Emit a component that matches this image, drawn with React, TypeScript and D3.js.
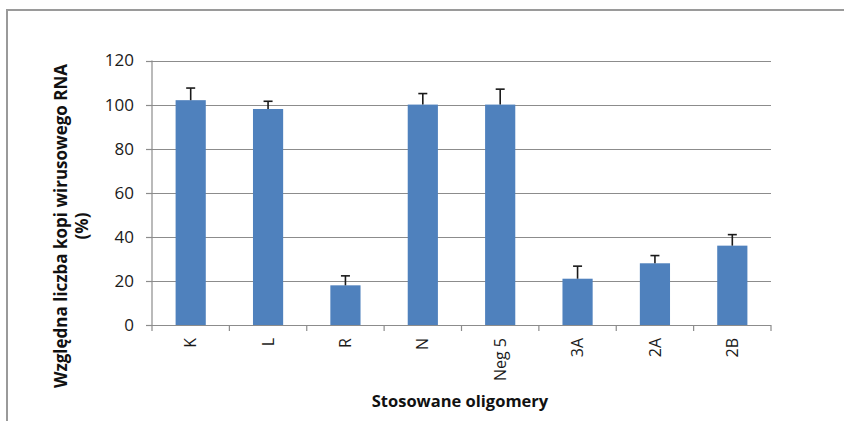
import React, { useRef, useEffect } from "react";
import * as d3 from "d3";

const categories = ["K", "L", "R", "N", "Neg 5", "3A", "2A", "2B"];
const values = [102, 98, 18, 100, 100, 21, 28, 36];
const errors = [5.5, 3.5, 4.3, 5, 7, 5.7, 3.5, 5];
const yTicks = [0, 20, 40, 60, 80, 100, 120];

const W = 844;
const H = 421;
const FONT = "'Open Sans', sans-serif";

const App: React.FC = () => {
    const svgRef = useRef<SVGSVGElement | null>(null);

    useEffect(() => {
        const svg = d3.select(svgRef.current);
        svg.selectAll("*").remove();

        const left = 152;
        const right = 771;
        const top = 60.5;
        const bottom = 325;

        const y = d3.scaleLinear().domain([0, 120]).range([bottom, top]);
        const x = d3
            .scaleBand<string>()
            .domain(categories)
            .range([left, right])
            .paddingInner(0.61)
            .paddingOuter(0.305);

        // frame of the chart area
        svg.append("path")
            .attr("d", `M7,${H} V10 H${W}`)
            .attr("fill", "none")
            .attr("stroke", "#9a9a9a")
            .attr("stroke-width", 2);

        // gridlines
        svg.append("g")
            .selectAll("line")
            .data(yTicks.filter((t) => t > 0))
            .join("line")
            .attr("x1", left)
            .attr("x2", right)
            .attr("y1", (d) => Math.round(y(d)) + 0.5)
            .attr("y2", (d) => Math.round(y(d)) + 0.5)
            .attr("stroke", "#8c8c8c")
            .attr("stroke-width", 1.2);

        // y axis
        const ya = svg.append("g").attr("class", "y-axis");
        ya.append("line")
            .attr("x1", left)
            .attr("x2", left)
            .attr("y1", top)
            .attr("y2", bottom)
            .attr("stroke", "#8c8c8c")
            .attr("stroke-width", 1.2);
        ya.selectAll("line.tick")
            .data(yTicks)
            .join("line")
            .attr("class", "tick")
            .attr("x1", left - 6)
            .attr("x2", left)
            .attr("y1", (d) => Math.round(y(d)) + 0.5)
            .attr("y2", (d) => Math.round(y(d)) + 0.5)
            .attr("stroke", "#8c8c8c")
            .attr("stroke-width", 1.2);
        ya.selectAll("text")
            .data(yTicks)
            .join("text")
            .attr("x", left - 18)
            .attr("y", (d) => y(d))
            .attr("dy", "0.35em")
            .attr("text-anchor", "end")
            .attr("font-family", FONT)
            .attr("font-size", 17)
            .attr("fill", "#1a1a1a")
            .text((d) => d);

        // bars
        svg.append("g")
            .selectAll("rect")
            .data(values)
            .join("rect")
            .attr("x", (_, i) => x(categories[i])!)
            .attr("width", x.bandwidth())
            .attr("y", (d) => y(d))
            .attr("height", (d) => bottom - y(d))
            .attr("fill", "#4f81bd");

        // error bars
        const eb = svg.append("g");
        values.forEach((v, i) => {
            const cx = x(categories[i])! + x.bandwidth() / 2;
            eb.append("line")
                .attr("x1", cx)
                .attr("x2", cx)
                .attr("y1", y(v))
                .attr("y2", y(v + errors[i]))
                .attr("stroke", "#1a1a1a")
                .attr("stroke-width", 1.6);
            eb.append("line")
                .attr("x1", cx - 4.5)
                .attr("x2", cx + 4.5)
                .attr("y1", y(v + errors[i]))
                .attr("y2", y(v + errors[i]))
                .attr("stroke", "#1a1a1a")
                .attr("stroke-width", 1.6);
        });

        // x axis
        const xa = svg.append("g");
        xa.append("line")
            .attr("x1", left)
            .attr("x2", right)
            .attr("y1", bottom + 0.5)
            .attr("y2", bottom + 0.5)
            .attr("stroke", "#8c8c8c")
            .attr("stroke-width", 1.2);
        const bounds = categories.map((c) => x(c)! - (x.step() - x.bandwidth()) / 2);
        bounds.push(right);
        xa.selectAll("line.tick")
            .data(bounds)
            .join("line")
            .attr("class", "tick")
            .attr("x1", (d) => d)
            .attr("x2", (d) => d)
            .attr("y1", bottom)
            .attr("y2", bottom + 6)
            .attr("stroke", "#8c8c8c")
            .attr("stroke-width", 1.2);
        xa.selectAll("text")
            .data(categories)
            .join("text")
            .attr(
                "transform",
                (d) => `translate(${x(d)! + x.bandwidth() / 2},${bottom + 13}) rotate(-90)`
            )
            .attr("dy", "0.35em")
            .attr("text-anchor", "end")
            .attr("font-family", FONT)
            .attr("font-size", 16)
            .attr("fill", "#1a1a1a")
            .text((d) => d);

        // axis titles
        svg.append("text")
            .attr("x", 460)
            .attr("y", 407)
            .attr("text-anchor", "middle")
            .attr("font-family", FONT)
            .attr("font-weight", "bold")
            .attr("font-size", 16.5)
            .attr("fill", "#111")
            .text("Stosowane oligomery");

        const yt = svg
            .append("text")
            .attr("transform", `translate(67,226) rotate(-90)`)
            .attr("text-anchor", "middle")
            .attr("font-family", FONT)
            .attr("font-weight", "bold")
            .attr("font-size", 17)
            .attr("fill", "#111");
        yt.append("tspan").attr("x", 0).attr("y", 0).text("Względna liczba kopi wirusowego RNA");
        yt.append("tspan").attr("x", 0).attr("y", 21).text("(%)");
    }, []);

    return (
        <svg
            ref={svgRef}
            width={W}
            height={H}
            style={{ position: "absolute", left: 0, top: 0, background: "#fff" }}
        ></svg>
    );
};

export default App;
